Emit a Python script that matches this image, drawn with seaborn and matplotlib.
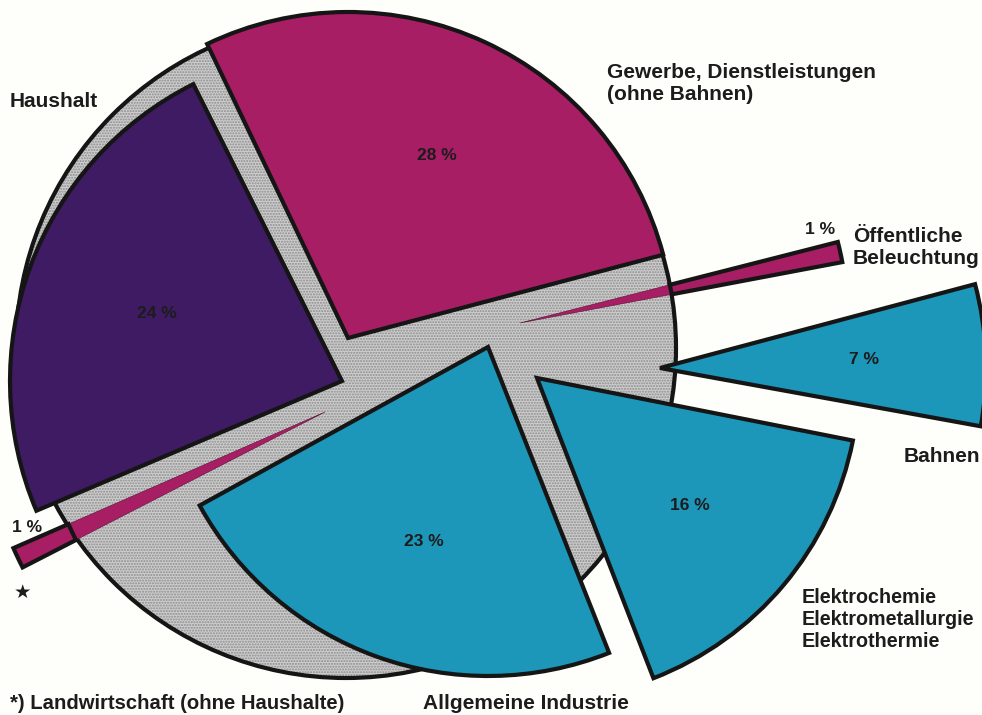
import numpy as np
import matplotlib.pyplot as plt
import seaborn as sns
from matplotlib.patches import Wedge, Circle

sns.set_style("white")
plt.rcParams["font.family"] = ["Liberation Sans", "DejaVu Sans"]

W, H = 982, 715

# Anteile am Stromverbrauch (in %)
sektoren = ["Gewerbe, Dienstleistungen\n(ohne Bahnen)", "Haushalt",
            "*) Landwirtschaft (ohne Haushalte)", "Allgemeine Industrie",
            "Elektrochemie\nElektrometallurgie\nElektrothermie", "Bahnen",
            "Öffentliche\nBeleuchtung"]
anteile = [28, 24, 1, 23, 16, 7, 1]

# Layout, Bildkoordinaten (y nach unten)
MAGENTA, LILA, BLAU = "#a81e64", "#3e1b62", "#1c96b9"
farben = [MAGENTA, LILA, MAGENTA, BLAU, BLAU, BLAU, MAGENTA]
spitzen = [(348, 338), (342, 381), (325, 412), (488, 347), (537, 378), (660, 368), (520, 323)]
startwinkel = [14.8, 116.6, 203.6, 208.8, 291.2, 349.7, 10.7]
radien = [326, 332, 340, 329, 322, 326, 328]
schmal = [False, False, True, False, False, False, True]
pct_pos = [(437, 155), (157, 313), (27, 527), (424, 542), (690, 505), (864, 360), (820, 229)]
label_pos = [(607, 63, "left"), (10, 92, "left"), (10, 694, "left"), (423, 694, "left"),
             (802, 588, "left"), (980, 447, "right"), (853, 227, "left")]
label_size = [15, 15, 14.6, 15, 14.2, 15, 15]

scheibe_mitte = (346, 348)
scheibe_r = 330
PAPIER = "#fefefa"
LINIE = "#151515"
TEXT = "#1c1c1c"


def fy(y):
    return H - y


fig = plt.figure(figsize=(W / 100, H / 100), dpi=100, facecolor=PAPIER)
ax = fig.add_axes([0, 0, 1, 1])
ax.set_xlim(0, W)
ax.set_ylim(0, H)
ax.set_facecolor(PAPIER)
ax.axis("off")

# graue Rasterscheibe im Hintergrund
c = (scheibe_mitte[0], fy(scheibe_mitte[1]))
ax.add_patch(Circle(c, scheibe_r, facecolor="#cdcdcd", edgecolor="none", zorder=1))
ax.add_patch(Circle(c, scheibe_r, facecolor="none", edgecolor="#8c8c8c", hatch="......",
                    lw=0, zorder=1.1))
ax.add_patch(Circle(c, scheibe_r, facecolor="none", edgecolor=LINIE, lw=3, zorder=1.2))

for i, anteil in enumerate(anteile):
    t1 = startwinkel[i]
    t2 = t1 + anteil * 3.6
    p = np.array([spitzen[i][0], fy(spitzen[i][1])], dtype=float)
    r = radien[i]
    if schmal[i]:
        # innerer Teil ohne Kontur, aeusserer Teil mit Kontur
        mid = np.deg2rad((t1 + t2) / 2)
        u = np.array([np.cos(mid), np.sin(mid)])
        d = p - np.array(c)
        b = u @ d
        r_in = -b + np.sqrt(b * b - (d @ d - scheibe_r ** 2))
        ax.add_patch(Wedge(p, r_in, t1, t2, facecolor=farben[i], edgecolor="#5a1036",
                           lw=0.4, zorder=2))
        ax.add_patch(Wedge(p, r, t1, t2, width=r - r_in, facecolor=farben[i],
                           edgecolor=LINIE, lw=3, joinstyle="miter", zorder=2))
    else:
        ax.add_patch(Wedge(p, r, t1, t2, facecolor=farben[i], edgecolor=LINIE, lw=3,
                           joinstyle="miter", zorder=3))

    px, py = pct_pos[i]
    ax.text(px, fy(py), f"{anteil} %", ha="center", va="center", fontsize=12.5,
            fontweight="bold", color=TEXT, zorder=5)

    lx, ly, ha = label_pos[i]
    ax.text(lx, fy(ly), sektoren[i], ha=ha, va="top", fontsize=label_size[i],
            fontweight="bold", color=TEXT, linespacing=1.2, zorder=5)

# Stern fuer Landwirtschaft
ax.text(22, fy(592), "★", ha="center", va="center", fontsize=14, color=TEXT,
        family="DejaVu Sans", zorder=5)

fig.savefig("out.png", dpi=100, facecolor=PAPIER)
